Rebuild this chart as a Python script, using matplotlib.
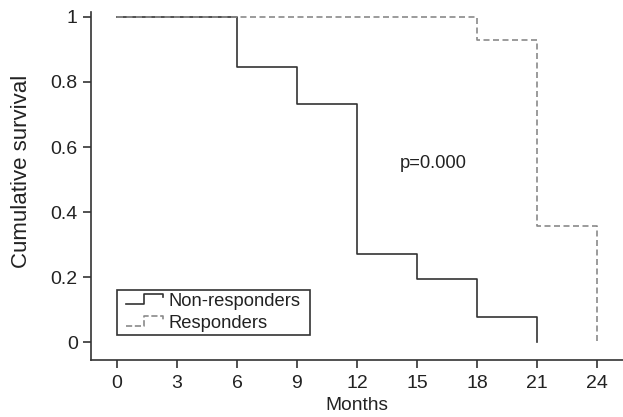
import numpy as np
import matplotlib
matplotlib.use("Agg")
import matplotlib.pyplot as plt
from matplotlib.legend_handler import HandlerBase
from matplotlib.lines import Line2D
from matplotlib.patches import Rectangle
from matplotlib.transforms import IdentityTransform

plt.rcParams['font.family'] = ['Liberation Sans', 'DejaVu Sans']

# Data
nonresp_t = [0, 6, 9, 12, 15, 18, 21]
nonresp_s = [1.0, 0.846, 0.731, 0.273, 0.194, 0.077, 0.0]
resp_t = [0, 18, 21, 24]
resp_s = [1.0, 0.93, 0.357, 0.0]
xticks = [0, 3, 6, 9, 12, 15, 18, 21, 24]
yticks = [0, 0.2, 0.4, 0.6, 0.8, 1]
ytick_labels = ["0", "0.2", "0.4", "0.6", "0.8", "1"]

dark = "#333333"
gray = "#8a8a8a"
txt = "#222222"

W, H = 623, 417
fig = plt.figure(figsize=(W / 100, H / 100), dpi=100)
ax = fig.add_axes([91 / W, 1 - 360 / H, 1 - 91 / W, (360 - 12) / H])

ax.step(nonresp_t, nonresp_s, where='post', color=dark, lw=1.2, label="Non-responders")
ax.step(resp_t, resp_s, where='post', color=gray, lw=1.2, ls=(0, (3.6, 2.1)), label="Responders")

ax.set_xlim(-1.3, 25.3)
ax.set_ylim(-0.054, 1.015)
ax.set_xticks(xticks)
ax.set_yticks(yticks)
ax.set_yticklabels(ytick_labels)
for s in ['top', 'right']:
    ax.spines[s].set_visible(False)
for s in ['left', 'bottom']:
    ax.spines[s].set_color(dark)
    ax.spines[s].set_linewidth(1.2)
ax.tick_params(direction='out', length=6, width=1.2, color=dark, labelsize=14, labelcolor=txt)
ax.tick_params(axis='x', pad=5)
ax.tick_params(axis='y', pad=3.5)

ax.set_xlabel("Months", fontsize=13.8, color=txt)
ax.xaxis.set_label_coords(0.5, -(406 - 360) / 348, transform=ax.transAxes)
ax.xaxis.label.set_va('center')
ax.set_ylabel("Cumulative survival", fontsize=16, color=txt)
ax.yaxis.set_label_coords((22 - 91) / 532, (360 - 171) / 348, transform=ax.transAxes)
ax.yaxis.label.set_va('center')

ax.text(15.8, 0.55, "p=0.000", fontsize=13.2, color=txt, ha='center', va='center')


class StepHandler(HandlerBase):
    def create_artists(self, legend, orig_handle, xdescent, ydescent, width, height, fontsize, trans):
        x = np.array([0, 0.5, 0.5, 1.0, 1.0]) * width - xdescent
        y = np.array([0.15, 0.15, 0.9, 0.9, 0.65]) * height - ydescent
        line = Line2D(x, y, color=orig_handle.get_color(), lw=orig_handle.get_linewidth(),
                      ls=orig_handle.get_linestyle())
        line.set_transform(trans)
        return [line]


handles, labels = ax.get_legend_handles_labels()
leg = fig.legend(handles, labels, handler_map={h: StepHandler() for h in handles},
                 loc='lower left', bbox_to_anchor=(126 / W, 1 - 332 / H),
                 bbox_transform=fig.transFigure,
                 fontsize=13.2, frameon=False, handlelength=2.0,
                 handletextpad=0.33, borderpad=0.0, labelspacing=0.3, borderaxespad=0)
for t in leg.get_texts():
    t.set_color(txt)

fig.canvas.draw()
bb = leg.get_window_extent()
padx, pady = 9, 3
frame = Rectangle((bb.x0 - padx, bb.y0 - pady), bb.width + 2 * padx, bb.height + 2 * pady,
                  transform=IdentityTransform(), fill=False, edgecolor=dark, lw=1.2)
fig.add_artist(frame)

fig.savefig("out.png", dpi=100)
